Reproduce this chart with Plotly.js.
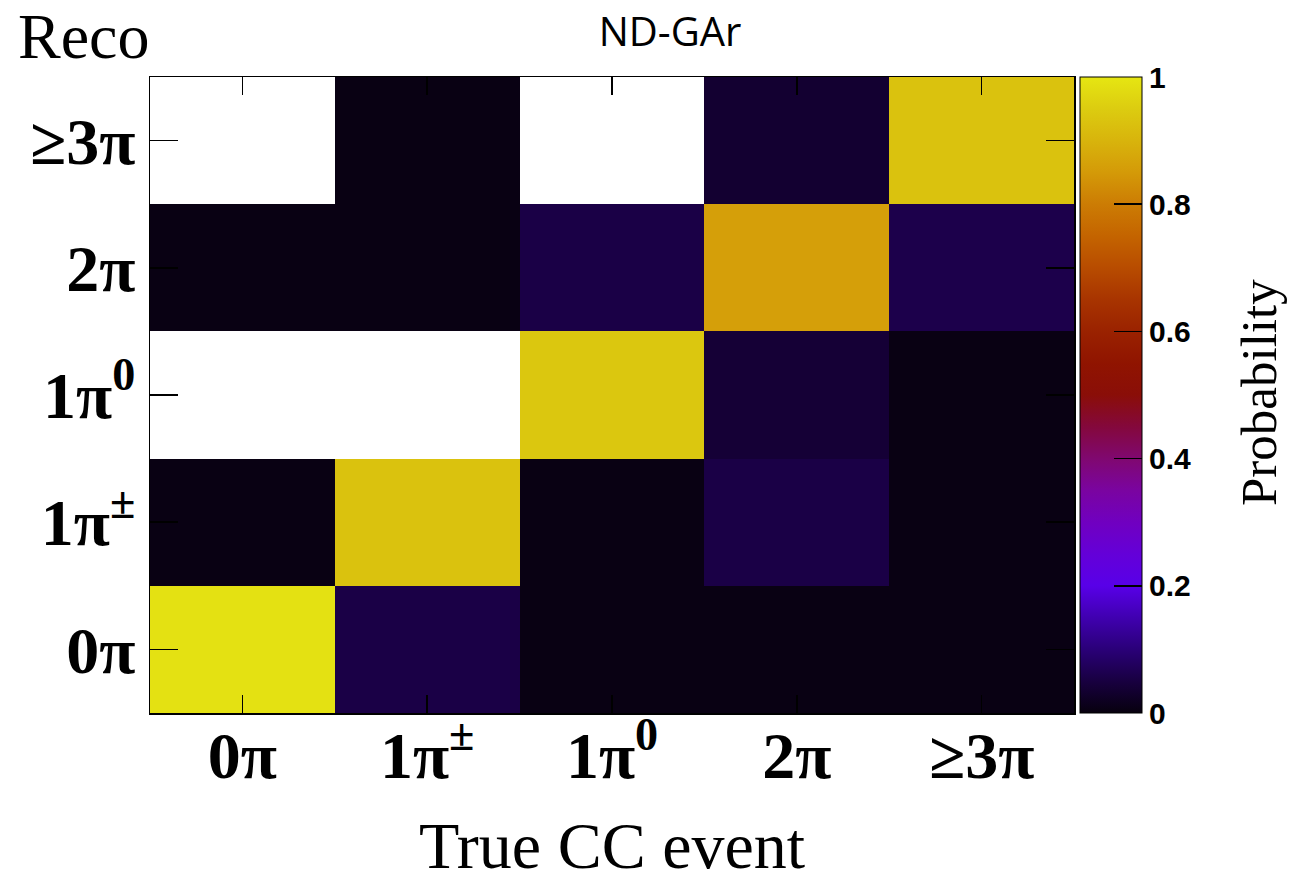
<!DOCTYPE html>
<html>
<head>
<meta charset="utf-8">
<script src="https://cdn.plot.ly/plotly-3.0.1.min.js"></script>
<style>html,body{margin:0;padding:0;background:#fff;}#chart{width:1296px;height:882px;}</style>
</head>
<body>
<div id="chart"></div>
<script>
// True CC event categories (x) and reconstructed categories (y, bottom to top)
const trueCategories = ['0π', '1π<sup>±</sup>', '1π<sup>0</sup>', '2π', '≥3π'];
const recoCategories = ['0π', '1π<sup>±</sup>', '1π<sup>0</sup>', '2π', '≥3π'];

// Probability per reco row (null = empty bin, drawn white)
const recoRow0pi   = [0.99,  0.055, 0.005, 0.005, 0.005];
const recoRow1piPM = [0.005, 0.93,  0.005, 0.055, 0.005];
const recoRow1pi0  = [null,  null,  0.94,  0.04,  0.005];
const recoRow2pi   = [0.005, 0.005, 0.055, 0.86,  0.06];
const recoRow3pi   = [null,  0.005, null,  0.035, 0.93];

const colorbarTicks = [0, 0.2, 0.4, 0.6, 0.8, 1];
const colorbarTickText = ['0', '0.2', '0.4', '0.6', '0.8', '1'];

const colorscale = [
  [0.00, '#07010e'], [0.05, '#180040'], [0.10, '#2a0078'], [0.15, '#4000b0'],
  [0.20, '#5800e8'], [0.25, '#6400d8'], [0.30, '#7000c0'], [0.35, '#7a04a0'],
  [0.40, '#800870'], [0.45, '#84083c'], [0.50, '#8a0e08'], [0.55, '#901400'],
  [0.60, '#9a2200'], [0.65, '#a83400'], [0.70, '#b84c00'], [0.75, '#c46400'],
  [0.80, '#cc7c04'], [0.85, '#d49a08'], [0.90, '#d8b40c'], [0.95, '#dccc10'],
  [1.00, '#e6e612']
];

const serif = 'Liberation Serif, Times New Roman, serif';
const sans = 'Liberation Sans, Arial, sans-serif';

const plotL = 150, plotR = 1074, plotT = 77, plotB = 713;
const W = 1296, H = 882;
const pw = plotR - plotL, ph = plotB - plotT;

const trace = {
  type: 'heatmap',
  x: trueCategories,
  y: recoCategories,
  z: [recoRow0pi, recoRow1piPM, recoRow1pi0, recoRow2pi, recoRow3pi],
  zmin: 0, zmax: 1,
  colorscale: colorscale,
  hoverongaps: false,
  colorbar: {
    thickness: 62, thicknessmode: 'pixels',
    len: 1, lenmode: 'fraction',
    x: (1080 - plotL) / pw, xanchor: 'left', xref: 'paper',
    y: 0.5, yanchor: 'middle',
    xpad: 0, ypad: 0,
    outlinewidth: 1, outlinecolor: '#000',
    ticks: 'inside', ticklen: 28, tickwidth: 1.5, tickcolor: '#000',
    tickvals: colorbarTicks, ticktext: colorbarTickText,
    tickfont: {family: sans, size: 30, color: '#000', weight: 'bold'}
  }
};

const layout = {
  width: W, height: H,
  margin: {l: plotL, r: W - plotR, t: plotT, b: H - plotB, pad: 0},
  paper_bgcolor: '#fff', plot_bgcolor: '#fff',
  title: {
    text: 'ND-GAr',
    font: {family: 'Open Sans, sans-serif', size: 40, color: '#000'},
    xref: 'paper', x: (670 - plotL) / pw, xanchor: 'center',
    yref: 'container', y: 1 - 32 / H, yanchor: 'middle'
  },
  xaxis: {
    type: 'category', range: [-0.5, 4.5], fixedrange: true,
    showline: true, linecolor: '#000', linewidth: 1.5, mirror: 'ticks',
    ticks: 'inside', ticklen: 18, tickwidth: 1.5, tickcolor: '#000',
    showgrid: false, zeroline: false,
    tickfont: {family: serif, size: 66, color: '#000', weight: 'bold'},
    ticklabelstandoff: -16,
    title: {text: 'True CC event', font: {family: serif, size: 66, color: '#000'}, standoff: 34},
    automargin: false
  },
  yaxis: {
    type: 'category', range: [-0.5, 4.5], fixedrange: true,
    showline: true, linecolor: '#000', linewidth: 1.5, mirror: 'ticks',
    ticks: 'inside', ticklen: 28, tickwidth: 1.5, tickcolor: '#000',
    showgrid: false, zeroline: false,
    tickfont: {family: serif, size: 66, color: '#000', weight: 'bold'},
    ticklabelstandoff: 0,
    automargin: false
  },
  annotations: [{
    text: 'Reco', showarrow: false,
    xref: 'paper', x: (16 - plotL) / pw, xanchor: 'left',
    yref: 'paper', y: 1 + (plotT - 36) / ph, yanchor: 'middle',
    font: {family: serif, size: 64, color: '#000'}
  }, {
    text: 'Probability', showarrow: false, textangle: -90,
    xref: 'paper', x: (1259 - plotL) / pw, xanchor: 'center',
    yref: 'paper', y: (plotB - 393) / ph, yanchor: 'middle',
    font: {family: serif, size: 51, color: '#000'}
  }]
};

Plotly.newPlot('chart', [trace], layout, {displayModeBar: false, staticPlot: true});
</script>
</body>
</html>
